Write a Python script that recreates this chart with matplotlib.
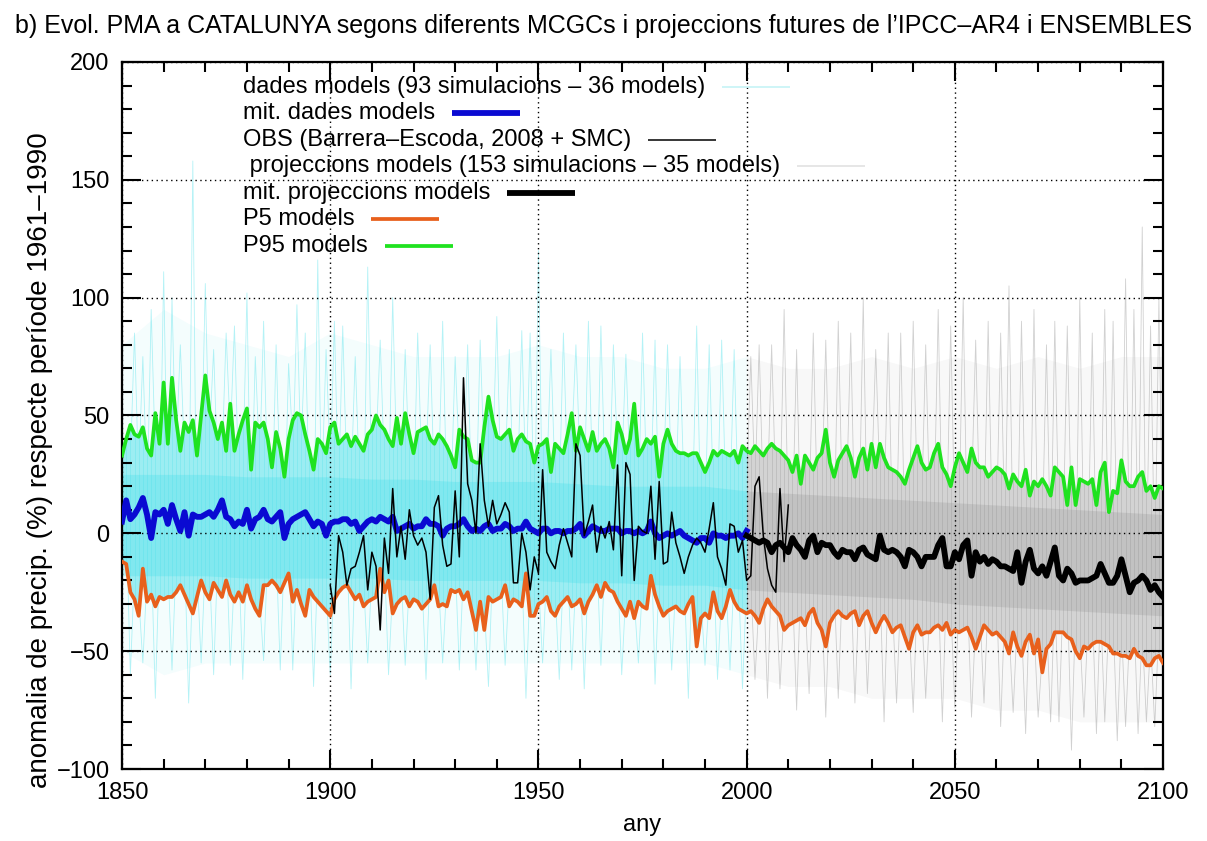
import matplotlib
matplotlib.use("Agg")
import matplotlib.pyplot as plt
from matplotlib.ticker import MultipleLocator
import numpy as np

plt.rcParams["font.family"] = ["Liberation Sans", "DejaVu Sans"]

# anys
anys = np.arange(1850, 2101)

# P95 dels models (1850-2100)
p95 = [33, 40, 46, 42, 41, 45, 36, 33, 51, 38,
       64, 38, 66, 48, 35, 47, 43, 48, 33, 50,
       67, 52, 47, 40, 47, 35, 55, 35, 42, 48,
       53, 27, 47, 45, 47, 40, 28, 43, 36, 24,
       40, 48, 51, 50, 42, 35, 27, 40, 38, 34,
       45, 47, 38, 40, 42, 37, 41, 38, 35, 42,
       44, 50, 46, 44, 40, 37, 49, 38, 51, 42,
       34, 43, 44, 45, 40, 38, 42, 40, 37, 33,
       28, 44, 41, 40, 31, 30, 30, 45, 58, 48,
       41, 40, 42, 44, 35, 40, 42, 39, 38, 30,
       37, 38, 40, 26, 38, 36, 34, 42, 51, 35,
       45, 40, 35, 43, 35, 38, 40, 36, 28, 47,
       42, 34, 40, 55, 33, 36, 40, 38, 41, 24,
       38, 44, 38, 35, 34, 34, 33, 34, 34, 30,
       26, 30, 35, 33, 35, 34, 33, 35, 30, 37,
       35, 34, 37, 35, 33, 36, 38, 36, 35, 33,
       31, 26, 33, 21, 33, 30, 27, 32, 34, 44,
       30, 24, 31, 34, 37, 32, 24, 32, 36, 27,
       38, 28, 38, 32, 28, 27, 26, 24, 21, 27,
       32, 37, 30, 27, 28, 34, 38, 28, 25, 20,
       28, 34, 30, 26, 36, 30, 28, 28, 24, 26,
       28, 27, 25, 19, 25, 22, 20, 27, 16, 22,
       20, 23, 20, 16, 28, 26, 24, 12, 28, 12,
       23, 22, 21, 23, 12, 26, 30, 9, 18, 17,
       31, 22, 20, 20, 24, 26, 18, 20, 15, 20,
       19]

# P5 dels models (1850-2100)
p5 = [-12, -13, -25, -28, -35, -15, -29, -26, -31, -27,
      -28, -27, -27, -25, -22, -26, -30, -34, -27, -20,
      -25, -28, -21, -24, -27, -20, -26, -29, -25, -29,
      -22, -28, -32, -35, -22, -22, -20, -22, -25, -21,
      -17, -29, -24, -30, -35, -24, -27, -29, -31, -33,
      -35, -28, -25, -23, -22, -25, -28, -26, -31, -29,
      -28, -27, -15, -25, -20, -34, -30, -28, -27, -31,
      -28, -29, -32, -30, -28, -22, -31, -30, -31, -24,
      -25, -24, -28, -25, -33, -41, -29, -41, -27, -29,
      -28, -27, -22, -31, -28, -29, -31, -17, -35, -35,
      -30, -29, -27, -33, -35, -31, -29, -27, -31, -30,
      -28, -34, -29, -26, -22, -27, -21, -24, -25, -29,
      -32, -35, -29, -36, -29, -31, -32, -18, -26, -31,
      -35, -33, -32, -31, -33, -34, -30, -27, -48, -36,
      -34, -36, -25, -33, -36, -31, -24, -29, -32, -33,
      -34, -33, -35, -38, -32, -28, -31, -33, -35, -41,
      -39, -38, -37, -36, -39, -34, -32, -38, -41, -48,
      -38, -35, -33, -35, -36, -34, -33, -39, -35, -33,
      -38, -42, -38, -35, -38, -42, -40, -39, -44, -49,
      -42, -39, -43, -42, -42, -40, -39, -41, -38, -43,
      -41, -42, -41, -40, -44, -49, -44, -39, -41, -43,
      -42, -44, -46, -51, -42, -48, -52, -46, -43, -51,
      -45, -59, -49, -47, -42, -42, -42, -44, -45, -50,
      -53, -48, -49, -47, -46, -46, -47, -48, -51, -51,
      -52, -52, -53, -49, -52, -53, -56, -56, -53, -52,
      -55]

# mitjana dades models (1850-2000)
anys_hist = np.arange(1850, 2001)
mit_hist = [5, 14, 6, 8, 11, 15, 8, -2, 9, 8,
            10, 4, 12, 6, 1, 9, -1, 8, 7, 7,
            8, 9, 7, 10, 14, 7, 6, 3, 5, 4,
            10, 2, 6, 7, 10, 6, 5, 7, 9, -2,
            4, 6, 7, 8, 9, 6, 3, 5, 4, -1,
            4, 5, 5, 6, 6, 4, 5, 1, 3, 5,
            6, 5, 7, 6, 5, 7, 1, 2, 3, 4,
            2, 3, 3, 6, 4, 4, 3, -1, 2, 3,
            3, 4, 6, 3, 1, 2, 1, 3, 4, 1,
            2, 2, 4, 3, 1, 2, 2, 5, 2, 1,
            0, 2, 2, 0, 1, 1, 0, 1, 1, 2,
            4, -1, 1, 3, 2, 1, 1, 2, 2, 2,
            0, 1, 1, 0, 1, 0, 1, 5, 0, -2,
            -1, 0, -1, 0, 1, -1, -2, -3, -4, -2,
            -2, -4, 0, -1, -1, -2, -1, -1, 0, -2,
            1]

# mitjana projeccions models (2000-2100)
anys_fut = np.arange(2000, 2101)
mit_fut = [-1, -2, -3, -4, -3, -4, -8, -5, -4, -6,
           -8, -2, -5, -7, -10, -3, -1, -8, -4, -5,
           -5, -8, -10, -7, -8, -8, -11, -7, -6, -9,
           -10, -11, -1, -7, -8, -7, -8, -10, -14, -7,
           -8, -10, -14, -10, -10, -10, -5, -2, -14, -14,
           -8, -11, -5, -3, -18, -8, -12, -10, -13, -11,
           -12, -14, -14, -15, -16, -8, -21, -12, -7, -15,
           -17, -14, -18, -12, -6, -18, -20, -15, -17, -21,
           -20, -20, -20, -19, -18, -13, -17, -21, -21, -18,
           -11, -18, -25, -21, -20, -18, -20, -24, -22, -25,
           -27]

# observacions (1900-2010)
anys_obs = np.arange(1900, 2011)
obs = [-22, -34, -1, -8, -22, -15, -14, -8, -1, -24,
       -8, -14, -41, -2, -17, 19, -10, 3, -11, 10,
       -1, -5, -2, -8, -28, 11, 16, -5, -14, -13,
       18, -10, 66, 21, 14, 0, 38, 14, 3, 14,
       4, 8, 13, 9, -21, -21, 0, -8, -24, -10,
       -17, 27, -8, -12, -15, -5, 2, -4, -10, 38,
       33, -1, 5, 12, -8, 3, -2, 5, -7, 29,
       -18, 30, 25, -20, 3, 1, 0, 20, -11, 22,
       -13, -12, 9, -4, -10, -17, -10, -5, -2, -4,
       -8, 2, 13, -10, -15, -22, 4, 3, -8, -3,
       -20, -18, 20, 24, -1, -15, -22, -25, 19, -12,
       12]

# envolupants aproximades del feix de simulacions (cada 10 anys)
anys_env = np.arange(1850, 2101, 10)
env_sup = [80, 95, 85, 80, 75, 85, 80, 75, 75, 75, 80, 75, 75,
           70, 70, 75, 70, 70, 75, 70, 75, 70, 75, 70, 75, 75]
env_inf = [-50, -60, -55, -55, -55, -55, -55, -55, -55, -55, -55, -55, -55,
           -55, -55, -60, -65, -65, -70, -70, -70, -75, -75, -80, -80, -80]
nucli_sup = [25, 25, 25, 24, 24, 24, 23, 23, 22, 22, 22, 21, 20,
             20, 20, 18, 17, 16, 15, 14, 13, 12, 11, 10, 9, 8]
nucli_inf = [-18, -18, -18, -19, -19, -19, -19, -20, -20, -20, -20, -21, -21,
             -22, -22, -24, -25, -26, -27, -28, -30, -31, -32, -33, -34, -35]

# puntes extremes de les simulacions
pics_sup_anys = [1853, 1855, 1857, 1860, 1862, 1864, 1867, 1870, 1872, 1875,
                 1877, 1880, 1882, 1884, 1887, 1890, 1892, 1894, 1897, 1899,
                 1901, 1903, 1906, 1909, 1912, 1915, 1918, 1921, 1924, 1927,
                 1930, 1933, 1936, 1940, 1943, 1946, 1948, 1950, 1953, 1956,
                 1959, 1962, 1965, 1968, 1971, 1975, 1978, 1981, 1984, 1988,
                 1991, 1994, 1997,
                 2001, 2003, 2006, 2009, 2012, 2016, 2019, 2022, 2025, 2028,
                 2031, 2034, 2037, 2040, 2043, 2046, 2049, 2052, 2055, 2058,
                 2061, 2063, 2066, 2069, 2072, 2074, 2077, 2080, 2083, 2086,
                 2088, 2091, 2093, 2095, 2097, 2099]
pics_sup = [85, 75, 95, 111, 100, 80, 158, 106, 78, 85,
            88, 102, 75, 90, 80, 72, 97, 85, 116, 78,
            90, 88, 75, 113, 82, 100, 78, 85, 80, 90,
            75, 80, 82, 92, 78, 86, 85, 120, 78, 85,
            80, 90, 88, 80, 76, 85, 82, 80, 75, 88,
            80, 82, 78,
            75, 80, 80, 95, 78, 85, 82, 90, 85, 100,
            78, 85, 85, 90, 80, 95, 88, 100, 82, 90,
            85, 105, 90, 95, 80, 90, 88, 100, 85, 95,
            90, 108, 95, 130, 88, 100]
pics_inf_anys = [1852, 1855, 1858, 1862, 1866, 1869, 1872, 1876, 1879, 1884,
                 1888, 1891, 1896, 1900, 1905, 1909, 1914, 1918, 1923, 1927,
                 1931, 1935, 1938, 1942, 1947, 1951, 1955, 1958, 1961, 1965,
                 1970, 1974, 1978, 1982, 1986, 1990, 1993, 1996, 1999,
                 2002, 2005, 2008, 2012, 2015, 2019, 2022, 2026, 2029, 2033,
                 2036, 2040, 2043, 2047, 2050, 2054, 2057, 2061, 2064, 2067,
                 2070, 2073, 2075, 2078, 2081, 2084, 2086, 2089, 2091, 2094,
                 2096, 2098]
pics_inf = [-60, -55, -70, -58, -72, -55, -60, -56, -62, -54,
            -58, -58, -65, -60, -66, -55, -60, -56, -62, -55,
            -58, -58, -65, -56, -70, -55, -62, -58, -66, -56,
            -60, -55, -64, -58, -70, -56, -62, -58, -66,
            -62, -70, -66, -75, -68, -78, -70, -72, -68, -80,
            -72, -76, -70, -80, -74, -78, -72, -82, -76, -85,
            -78, -80, -80, -92, -78, -85, -80, -88, -82, -85,
            -80, -82]

CIAN = "#45dfe9"
GRIS = "#8c8c8c"

fig = plt.figure(figsize=(12.07, 8.41), dpi=100)
ax = fig.add_axes([0.1011, 0.0856, 0.8625, 0.8407])

p95 = np.array(p95)
p5 = np.array(p5)
env_sup = np.array(env_sup)
env_inf = np.array(env_inf)
nucli_sup = np.array(nucli_sup)
nucli_inf = np.array(nucli_inf)

# feix de simulacions: historic (cian) i projeccions (gris)
trams = [(anys <= 2000, anys_env <= 2000, CIAN, 0.50, 0.30),
         (anys >= 2000, anys_env >= 2000, GRIS, 0.34, 0.24)]
for mask, emask, col, a_band, a_core in trams:
    ax.fill_between(anys_env[emask], env_inf[emask], env_sup[emask], color=col,
                    alpha=0.06, lw=0, zorder=1)
    ax.fill_between(anys[mask], p5[mask], p95[mask], color=col,
                    alpha=a_band, lw=0, zorder=1)
    ax.vlines(anys[mask], p5[mask], p95[mask], color=col, lw=0.6,
              alpha=0.3, zorder=1)
    ax.fill_between(anys_env[emask], nucli_inf[emask], nucli_sup[emask],
                    color=col, alpha=a_core, lw=0, zorder=1)

# puntes com a petits pics en ziga-zaga
for a, v in zip(pics_sup_anys, pics_sup):
    col = CIAN if a <= 2000 else GRIS
    i = a - 1850
    xs = [a - 0.7, a, a + 0.7]
    ys = [p95[max(i - 1, 0)], v, p95[min(i + 1, len(p95) - 1)]]
    ax.plot(xs, ys, color=col, lw=0.6, alpha=0.4, zorder=1)
for a, v in zip(pics_inf_anys, pics_inf):
    col = CIAN if a <= 2000 else GRIS
    i = a - 1850
    xs = [a - 0.7, a, a + 0.7]
    ys = [p5[max(i - 1, 0)], v, p5[min(i + 1, len(p5) - 1)]]
    ax.plot(xs, ys, color=col, lw=0.6, alpha=0.4, zorder=1)

ax.plot(anys, p95, color="#1fe21f", lw=2.7, zorder=3)
ax.plot(anys, p5, color="#e8601c", lw=2.7, zorder=3)
ax.plot(anys_hist, mit_hist, color="#0a0ad2", lw=4.2, zorder=4)
ax.plot(anys_fut, mit_fut, color="black", lw=4.2, zorder=4)
ax.plot(anys_obs, obs, color="black", lw=1.1, zorder=5)

ax.set_xlim(1850, 2100)
ax.set_ylim(-100, 200)
ax.xaxis.set_major_locator(MultipleLocator(50))
ax.xaxis.set_minor_locator(MultipleLocator(10))
ax.yaxis.set_major_locator(MultipleLocator(50))
ax.yaxis.set_minor_locator(MultipleLocator(10))
ax.tick_params(which="both", direction="in", top=True, right=True,
               width=1.5, labelsize=17)
ax.tick_params(which="major", length=14, pad=9)
ax.tick_params(which="minor", length=7)
ax.set_axisbelow(False)
ax.grid(True, which="major", color="black", lw=1.0, ls=(0, (1, 2.5)), zorder=2)
for s in ax.spines.values():
    s.set_linewidth(1.6)

ax.set_xlabel("any", fontsize=17)
ax.xaxis.set_label_coords(0.5, -0.064)
ax.set_ylabel("anomalia de precip. (%) respecte període 1961–1990", fontsize=20)
ax.yaxis.set_label_coords(-0.066, 0.437)
fig.text(0.5, 0.969,
         "b) Evol. PMA a CATALUNYA segons diferents MCGCs i projeccions futures "
         "de l’IPCC–AR4 i ENSEMBLES",
         ha="center", va="center", fontsize=18)

# llegenda a l'estil gnuplot: text i mostra de linia al costat
llegenda = [
    ("dades models (93 simulacions – 36 models)", "#c6f3f6", 1.2),
    ("mit. dades models", "#0a0ad2", 4.2),
    ("OBS (Barrera–Escoda, 2008 + SMC)", "black", 1.1),
    (" projeccions models (153 simulacions – 35 models)", "#e2e2e2", 1.2),
    ("mit. projeccions models", "black", 4.2),
    ("P5 models", "#e8601c", 2.7),
    ("P95 models", "#1fe21f", 2.7),
]
fig.canvas.draw()
renderer = fig.canvas.get_renderer()
inv = ax.transAxes.inverted()
y0 = 0.965
for i, (txt, col, lw) in enumerate(llegenda):
    y = y0 - i * 0.0375
    t = ax.text(0.116, y, txt, transform=ax.transAxes, ha="left", va="center",
                fontsize=17, zorder=6)
    bb = t.get_window_extent(renderer)
    x1 = inv.transform((bb.x1 + 17, 0))[0]
    x2 = inv.transform((bb.x1 + 85, 0))[0]
    ax.plot([x1, x2], [y, y], transform=ax.transAxes, color=col, lw=lw,
            solid_capstyle="butt", zorder=6)

fig.savefig("out.png", dpi=100)
